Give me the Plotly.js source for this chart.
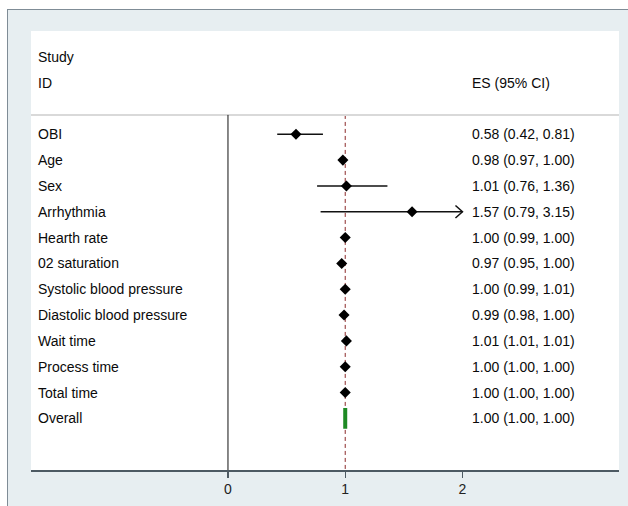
<!DOCTYPE html>
<html>
<head>
<meta charset="utf-8">
<script src="https://cdn.plot.ly/plotly-3.0.1.min.js"></script>
<style>
  html, body { margin: 0; padding: 0; width: 628px; height: 506px; overflow: hidden; background: #ffffff; }
  #frame { position: absolute; left: 7px; top: 9px; width: 700px; height: 600px;
           background: #e7eef1; border: 1px solid #7f8c96; }
  #chart { position: absolute; left: 0; top: 0; width: 628px; height: 506px; }
</style>
</head>
<body>
<div id="frame"></div>
<div id="chart"></div>
<script>
// ---- data ----
const studies = ["OBI", "Age", "Sex", "Arrhythmia", "Hearth rate", "02 saturation",
  "Systolic blood pressure", "Diastolic blood pressure", "Wait time", "Process time", "Total time"];
const es    = [0.58, 0.98, 1.01, 1.57, 1.00, 0.97, 1.00, 0.99, 1.01, 1.00, 1.00];
const lower = [0.42, 0.97, 0.76, 0.79, 0.99, 0.95, 0.99, 0.98, 1.01, 1.00, 1.00];
const upper = [0.81, 1.00, 1.36, 3.15, 1.00, 1.00, 1.01, 1.00, 1.01, 1.00, 1.00];
const overallLabel = ["Overall"];
const overallES    = [1.00];
const overallLower = [1.00];
const overallUpper = [1.00];
const xTicks = [0, 1, 2];
const headerStudy = ["Study", "ID"];
const headerES = "ES (95% CI)";

// ---- layout constants ----
const X_RANGE = [-1.68, 3.335];
const Y_RANGE = [13, -4];
const CLIP_MAX = xTicks[xTicks.length - 1];
const LABEL_X = -1.638;
const ES_X = 2.064;
const HEADER_LINE_Y = -0.75;
const pxPerX = 588 / (X_RANGE[1] - X_RANGE[0]);
const pxPerY = 439 / (Y_RANGE[0] - Y_RANGE[1]);

function fmt(v) { return v.toFixed(2); }

const traces = [];
const annotations = [];
const font = { family: "Liberation Sans, Arial, Helvetica, sans-serif", size: 14, color: "#0a0a0a" };

// CI lines
const ciX = [], ciY = [];
const arrowX = [], arrowY = [];
studies.forEach((s, i) => {
  const hi = Math.min(upper[i], CLIP_MAX);
  ciX.push(lower[i], hi, null);
  ciY.push(i, i, null);
  if (upper[i] > CLIP_MAX) {
    const dx = 7 / pxPerX, dy = 6.3 / pxPerY;
    arrowX.push(CLIP_MAX - dx, CLIP_MAX, CLIP_MAX - dx, null);
    arrowY.push(i - dy, i, i + dy, null);
  }
});
traces.push({ x: ciX, y: ciY, mode: "lines", line: { color: "#111111", width: 1.5 }, hoverinfo: "skip" });
traces.push({ x: arrowX, y: arrowY, mode: "lines", line: { color: "#111111", width: 1.5 }, hoverinfo: "skip" });

// point estimates
traces.push({ x: es, y: studies.map((s, i) => i), mode: "markers",
  marker: { symbol: "diamond", size: 8.5, color: "#000000" }, hoverinfo: "x" });

// overall (degenerate diamond)
const oi = studies.length;
const ovX = [], ovY = [];
overallES.forEach((v, k) => {
  const h = 0.4;
  ovX.push(v, overallUpper[k], v, overallLower[k], v, null);
  ovY.push(oi + k - h, oi + k, oi + k + h, oi + k, oi + k - h, null);
});
traces.push({ x: ovX, y: ovY, mode: "lines", line: { color: "#1e8a24", width: 4 }, hoverinfo: "skip" });

// text labels
studies.forEach((s, i) => {
  annotations.push({ x: LABEL_X, y: i, xref: "x", yref: "y", text: s, showarrow: false, xanchor: "left", yanchor: "middle", font });
  annotations.push({ x: ES_X, y: i, xref: "x", yref: "y",
    text: fmt(es[i]) + " (" + fmt(lower[i]) + ", " + fmt(upper[i]) + ")",
    showarrow: false, xanchor: "left", yanchor: "middle", font });
});
overallLabel.forEach((s, k) => {
  annotations.push({ x: LABEL_X, y: oi + k, xref: "x", yref: "y", text: s, showarrow: false, xanchor: "left", yanchor: "middle", font });
  annotations.push({ x: ES_X, y: oi + k, xref: "x", yref: "y",
    text: fmt(overallES[k]) + " (" + fmt(overallLower[k]) + ", " + fmt(overallUpper[k]) + ")",
    showarrow: false, xanchor: "left", yanchor: "middle", font });
});
headerStudy.forEach((s, k) => {
  annotations.push({ x: LABEL_X, y: -3 + k, xref: "x", yref: "y", text: s, showarrow: false, xanchor: "left", yanchor: "middle", font });
});
annotations.push({ x: ES_X, y: -2, xref: "x", yref: "y", text: headerES, showarrow: false, xanchor: "left", yanchor: "middle", font });

const shapes = [
  { type: "line", xref: "paper", yref: "y", x0: 0, x1: 1, y0: HEADER_LINE_Y, y1: HEADER_LINE_Y,
    line: { color: "#d9d9d9", width: 2 } },
  { type: "line", xref: "x", yref: "y", x0: 0, x1: 0, y0: HEADER_LINE_Y, y1: Y_RANGE[0],
    line: { color: "#111111", width: 1 } },
  { type: "line", xref: "x", yref: "y", x0: overallES[0], x1: overallES[0], y0: HEADER_LINE_Y, y1: Y_RANGE[0],
    line: { color: "#8b2a2a", width: 1, dash: "4px,3px" }, layer: "below" }
];

const layout = {
  width: 628, height: 506,
  margin: { l: 31, r: 9, t: 31, b: 36, pad: 0 },
  paper_bgcolor: "rgba(0,0,0,0)",
  plot_bgcolor: "#ffffff",
  showlegend: false,
  xaxis: {
    range: X_RANGE, tickvals: xTicks, ticktext: xTicks.map(String),
    showgrid: false, zeroline: false, showline: true, linecolor: "#4d5a63", linewidth: 1.5,
    ticks: "outside", ticklen: 6, tickwidth: 1.2, tickcolor: "#4d5a63",
    tickfont: { family: font.family, size: 14, color: "#222222" }, fixedrange: true
  },
  yaxis: { range: Y_RANGE, visible: false, showgrid: false, zeroline: false, fixedrange: true },
  annotations, shapes
};

Plotly.newPlot("chart", traces, layout, { displayModeBar: false, staticPlot: true });
</script>
</body>
</html>
